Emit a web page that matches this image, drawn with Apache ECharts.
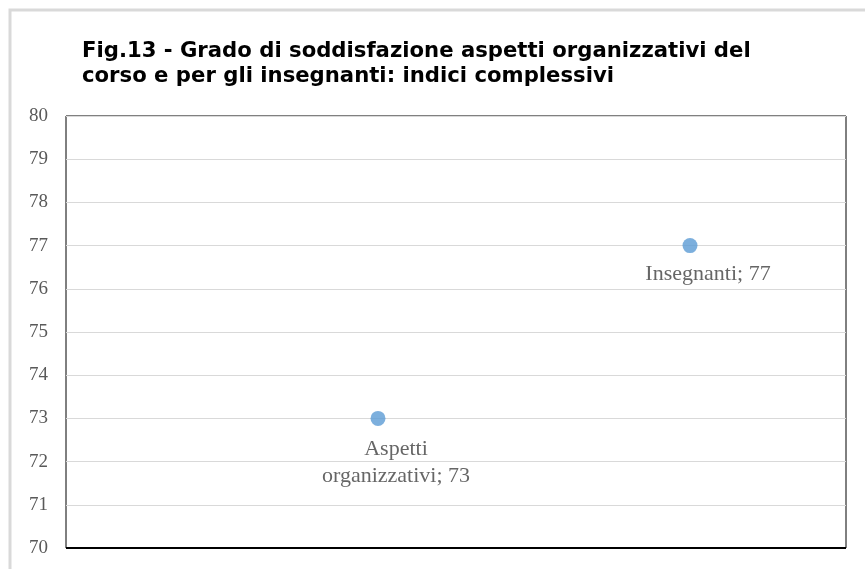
<!DOCTYPE html>
<html>
<head>
    <meta charset="UTF-8">
    <title>Fig.13</title>
    <style>
        html, body { margin: 0; padding: 0; background: #fff; }
        #box { width: 865px; height: 569px; }
    </style>
    <script src="https://cdn.jsdelivr.net/npm/echarts@6/dist/echarts.min.js"></script>
</head>
<body>
<div id="box"></div>
<script>
    // dati
    var nomi = ['Aspetti\norganizzativi', 'Insegnanti'];
    var posizioni = [1, 2];
    var valori = [73, 77];
    var yMin = 70, yMax = 80, yPasso = 1;

    // distanza etichetta per punto
    var distanzeEtichetta = [10, 8];

    var punti = [];
    for (var i = 0; i < nomi.length; i++) {
        punti.push({
            name: nomi[i],
            value: [posizioni[i], valori[i]],
            label: { distance: distanzeEtichetta[i] }
        });
    }

    var myChart = echarts.init(document.getElementById('box'));
    var option = {
        backgroundColor: '#fff',
        animation: false,
        title: {
            text: 'Fig.13 - Grado di soddisfazione aspetti organizzativi del\ncorso e per gli insegnanti: indici complessivi',
            left: 77,
            top: 34,
            textStyle: {
                fontFamily: 'DejaVu Sans',
                fontWeight: 'bold',
                fontSize: 21.2,
                lineHeight: 25,
                color: '#000'
            }
        },
        graphic: [{
            type: 'rect',
            shape: { x: 10, y: 10, width: 900, height: 600 },
            style: { fill: 'none', stroke: '#d9d9d9', lineWidth: 3 },
            silent: true
        }],
        grid: {
            left: 66,
            right: 19,
            top: 116,
            bottom: 21,
            show: true,
            borderColor: '#000',
            borderWidth: 1
        },
        xAxis: {
            type: 'value',
            min: 0,
            max: 2.5,
            show: false
        },
        yAxis: {
            type: 'value',
            min: yMin,
            max: yMax,
            interval: yPasso,
            axisLine: { show: false },
            axisTick: { show: false },
            axisLabel: {
                fontFamily: 'Liberation Serif',
                fontSize: 19,
                color: '#595959',
                margin: 18
            },
            splitLine: { lineStyle: { color: '#d9d9d9', width: 1 } }
        },
        series: [{
            type: 'scatter',
            symbol: 'circle',
            symbolSize: 15,
            itemStyle: { color: '#5b9bd5' },
            data: punti,
            label: {
                show: true,
                position: 'bottom',
                offset: [18, 0],
                align: 'center',
                fontFamily: 'Liberation Serif',
                fontSize: 22,
                lineHeight: 27,
                color: '#404040',
                formatter: function (p) { return p.name + '; ' + p.value[1]; }
            }
        }, {
            // asse inferiore nero
            type: 'line',
            data: [[0, yMin], [2.5, yMin]],
            symbol: 'none',
            lineStyle: { color: '#000', width: 2 },
            silent: true,
            z: 1
        }]
    };
    myChart.setOption(option);
</script>
</body>
</html>
